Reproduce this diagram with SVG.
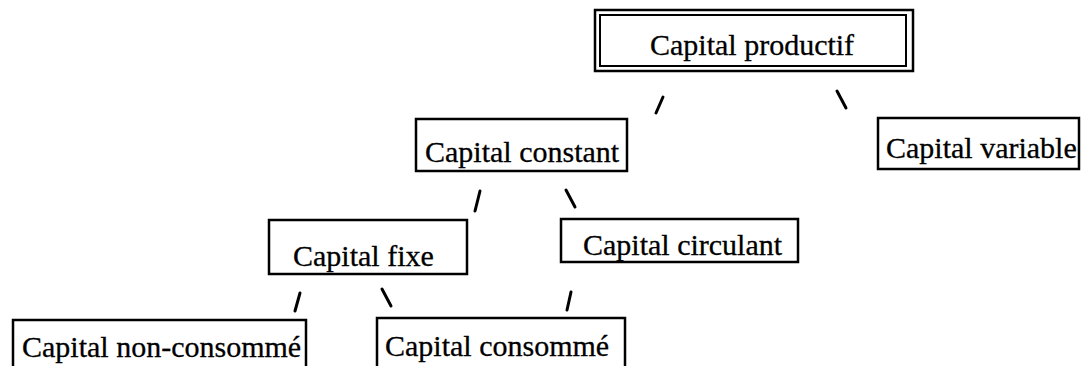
<svg xmlns="http://www.w3.org/2000/svg" width="1082" height="366" viewBox="0 0 1082 366">
<style>
.box{fill:#fff;stroke:#000;stroke-width:2.5}
.inner{fill:none;stroke:#000;stroke-width:2}
.t{font-family:"Liberation Serif","Times New Roman",serif;font-size:30px;fill:#000;stroke:#000;stroke-width:0.3}
.c{stroke:#000;stroke-width:3;stroke-linecap:round;fill:none}
</style>
<rect width="1082" height="366" fill="#fff"/>
<g id="connectors">
<line class="c" x1="663" y1="97" x2="656" y2="113"/>
<line class="c" x1="837" y1="91" x2="846" y2="108"/>
<line class="c" x1="480" y1="191" x2="475" y2="211"/>
<line class="c" x1="566" y1="190" x2="575" y2="207"/>
<line class="c" x1="300" y1="293" x2="295" y2="311"/>
<line class="c" x1="382" y1="289" x2="391" y2="306"/>
<line class="c" x1="571" y1="292" x2="567" y2="310"/>
</g>
<g id="capital-productif">
<rect class="box" x="595" y="10" width="318" height="61" stroke-width="3"/>
<rect class="inner" x="600" y="15" width="306" height="51"/>
<text class="t" x="650" y="55">Capital productif</text>
</g>
<g id="capital-constant">
<rect class="box" x="416" y="119" width="211" height="52"/>
<text class="t" x="425" y="162">Capital constant</text>
</g>
<g id="capital-variable">
<rect class="box" x="878" y="118" width="201" height="51"/>
<text class="t" x="886" y="158" font-size="29">Capital variable</text>
</g>
<g id="capital-fixe">
<rect class="box" x="269" y="220" width="198" height="54"/>
<text class="t" x="293" y="266">Capital fixe</text>
</g>
<g id="capital-circulant">
<rect class="box" x="561" y="219" width="237" height="43"/>
<text class="t" x="583" y="255">Capital circulant</text>
</g>
<g id="capital-non-consomme">
<rect class="box" x="13" y="320" width="293" height="60"/>
<text class="t" x="22" y="357">Capital non-consommé</text>
</g>
<g id="capital-consomme">
<rect class="box" x="377" y="318" width="248" height="62"/>
<text class="t" x="385" y="356">Capital consommé</text>
</g>
</svg>
